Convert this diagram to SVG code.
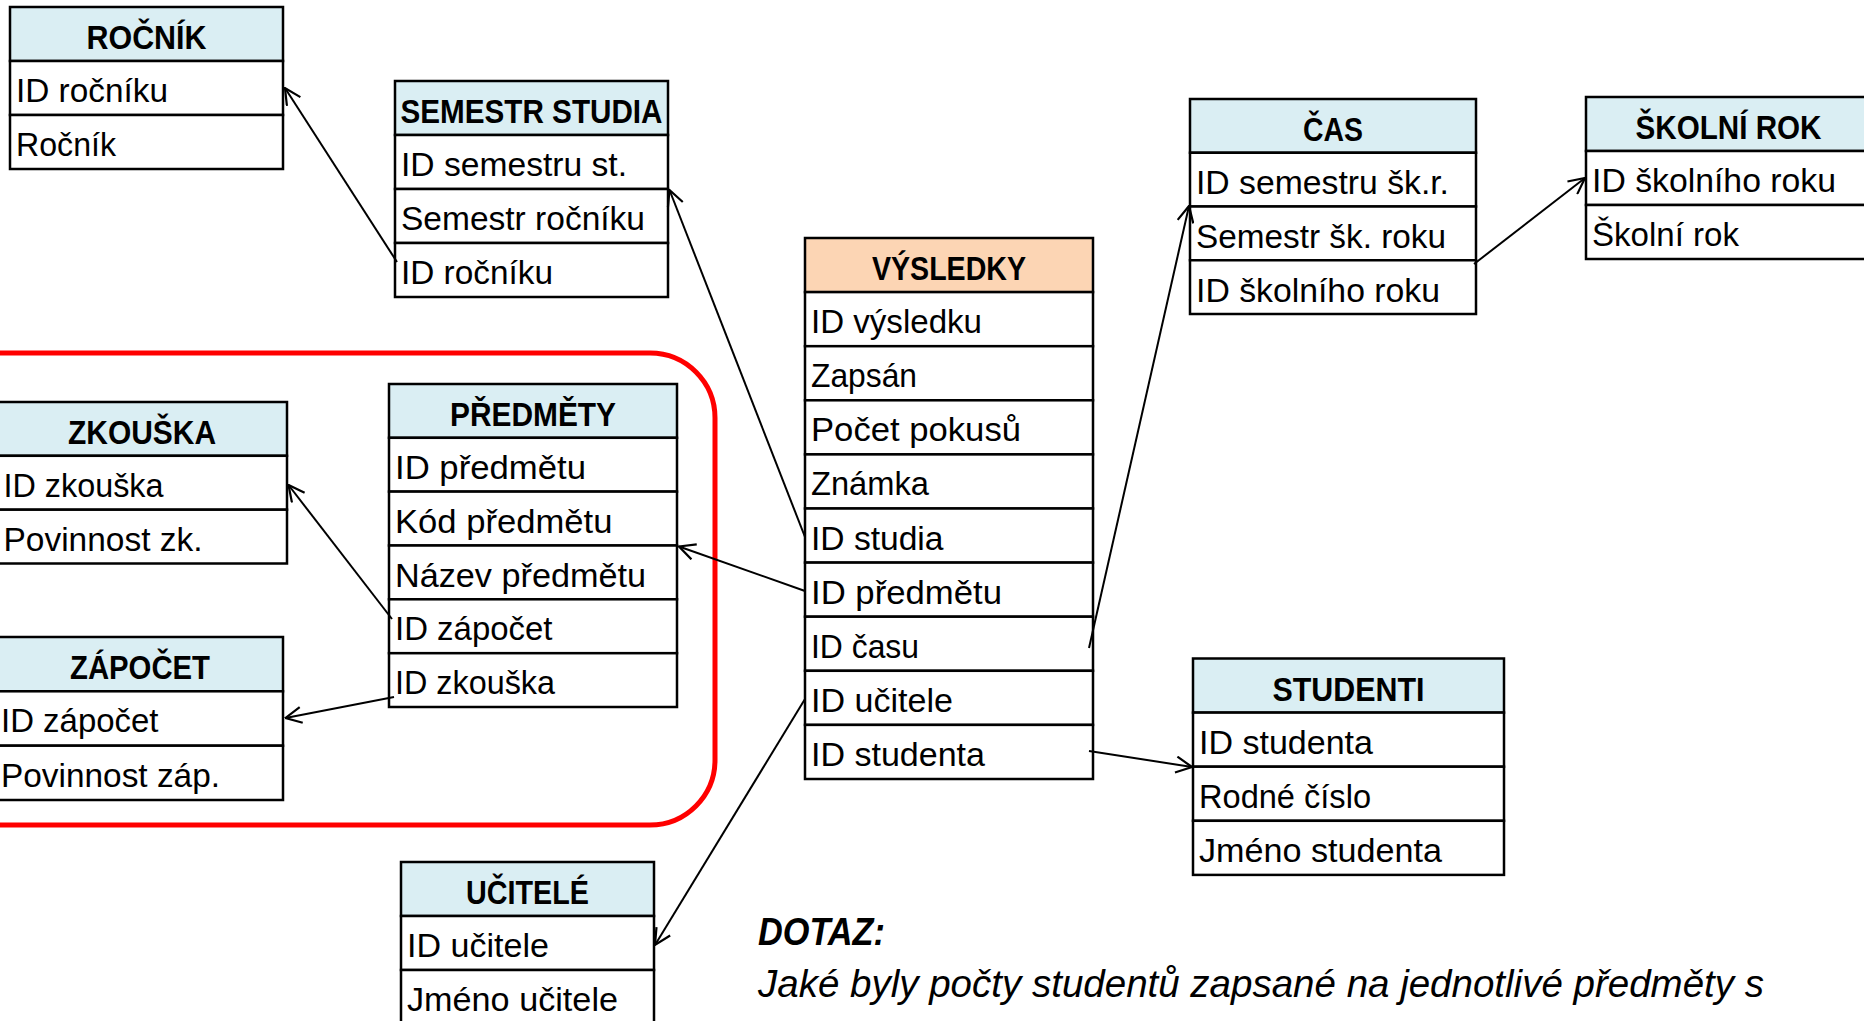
<svg xmlns="http://www.w3.org/2000/svg" width="1864" height="1021" viewBox="0 0 1864 1021">
  <defs>
    <style>
      .cell { fill: #ffffff; stroke: #000000; stroke-width: 2.5; }
      .hdr { fill: #DAEEF3; stroke: #000000; stroke-width: 2.5; }
      .hdr-main { fill: #FCD5B4; stroke: #000000; stroke-width: 2.5; }
      .t { font-family: "Liberation Sans", Arial, sans-serif; font-size: 33px; fill: #000000; }
      .h { font-weight: bold; text-anchor: middle; }
      .q { font-family: "Liberation Sans", Arial, sans-serif; font-size: 38px; font-style: italic; fill: #000000; }
      .link { stroke: #000000; stroke-width: 2; fill: none; marker-end: url(#open-arrow); }
      .group { fill: none; stroke: #FF0000; stroke-width: 5; }
    </style>
    <marker id="open-arrow" viewBox="0 0 18 18" refX="17" refY="9" markerWidth="18" markerHeight="18" markerUnits="userSpaceOnUse" orient="auto">
      <path d="M1,1 L17,9 L1,17" fill="none" stroke="#000000" stroke-width="2.2"/>
    </marker>
  </defs>

  <rect width="1864" height="1021" fill="#ffffff"/>

  <!-- subject cluster outline -->
  <rect class="group" x="-80" y="353" width="795" height="472" rx="65" ry="65"/>

  <!-- ROČNÍK -->
  <g id="rocnik">
    <rect class="hdr" x="10" y="7" width="273" height="54"/>
    <rect class="cell" x="10" y="61" width="273" height="54"/>
    <rect class="cell" x="10" y="115" width="273" height="54"/>
    <text class="t h" x="146.5" y="49" textLength="120" lengthAdjust="spacingAndGlyphs">ROČNÍK</text>
    <text class="t" x="16" y="102" textLength="152" lengthAdjust="spacingAndGlyphs">ID ročníku</text>
    <text class="t" x="16" y="156" textLength="100" lengthAdjust="spacingAndGlyphs">Ročník</text>
  </g>

  <!-- SEMESTR STUDIA -->
  <g id="semestr-studia">
    <rect class="hdr" x="395" y="81" width="273" height="54"/>
    <rect class="cell" x="395" y="135" width="273" height="54"/>
    <rect class="cell" x="395" y="189" width="273" height="54"/>
    <rect class="cell" x="395" y="243" width="273" height="54"/>
    <text class="t h" x="531.5" y="123" textLength="262" lengthAdjust="spacingAndGlyphs">SEMESTR STUDIA</text>
    <text class="t" x="401" y="176" textLength="226" lengthAdjust="spacingAndGlyphs">ID semestru st.</text>
    <text class="t" x="401" y="230" textLength="244" lengthAdjust="spacingAndGlyphs">Semestr ročníku</text>
    <text class="t" x="401" y="284" textLength="152" lengthAdjust="spacingAndGlyphs">ID ročníku</text>
  </g>

  <!-- ČAS -->
  <g id="cas">
    <rect class="hdr" x="1190" y="99" width="286" height="53.75"/>
    <rect class="cell" x="1190" y="152.75" width="286" height="53.75"/>
    <rect class="cell" x="1190" y="206.5" width="286" height="53.75"/>
    <rect class="cell" x="1190" y="260.25" width="286" height="53.75"/>
    <text class="t h" x="1333" y="141" textLength="60" lengthAdjust="spacingAndGlyphs">ČAS</text>
    <text class="t" x="1196" y="194" textLength="253" lengthAdjust="spacingAndGlyphs">ID semestru šk.r.</text>
    <text class="t" x="1196" y="248" textLength="250" lengthAdjust="spacingAndGlyphs">Semestr šk. roku</text>
    <text class="t" x="1196" y="301.5" textLength="244" lengthAdjust="spacingAndGlyphs">ID školního roku</text>
  </g>

  <!-- ŠKOLNÍ ROK -->
  <g id="skolni-rok">
    <rect class="hdr" x="1586" y="97" width="285" height="54"/>
    <rect class="cell" x="1586" y="151" width="285" height="54"/>
    <rect class="cell" x="1586" y="205" width="285" height="54"/>
    <text class="t h" x="1728.5" y="139" textLength="186" lengthAdjust="spacingAndGlyphs">ŠKOLNÍ ROK</text>
    <text class="t" x="1592" y="192" textLength="244" lengthAdjust="spacingAndGlyphs">ID školního roku</text>
    <text class="t" x="1592" y="246" textLength="147" lengthAdjust="spacingAndGlyphs">Školní rok</text>
  </g>

  <!-- VÝSLEDKY (fact table) -->
  <g id="vysledky">
    <rect class="hdr-main" x="805" y="238" width="288" height="54.1"/>
    <rect class="cell" x="805" y="292.1" width="288" height="54.1"/>
    <rect class="cell" x="805" y="346.2" width="288" height="54.1"/>
    <rect class="cell" x="805" y="400.3" width="288" height="54.1"/>
    <rect class="cell" x="805" y="454.4" width="288" height="54.1"/>
    <rect class="cell" x="805" y="508.5" width="288" height="54.1"/>
    <rect class="cell" x="805" y="562.6" width="288" height="54.1"/>
    <rect class="cell" x="805" y="616.7" width="288" height="54.1"/>
    <rect class="cell" x="805" y="670.8" width="288" height="54.1"/>
    <rect class="cell" x="805" y="724.9" width="288" height="54.1"/>
    <text class="t h" x="949" y="280" textLength="154" lengthAdjust="spacingAndGlyphs">VÝSLEDKY</text>
    <text class="t" x="811" y="333.1" textLength="171" lengthAdjust="spacingAndGlyphs">ID výsledku</text>
    <text class="t" x="811" y="387.2" textLength="106" lengthAdjust="spacingAndGlyphs">Zapsán</text>
    <text class="t" x="811" y="441.3" textLength="210" lengthAdjust="spacingAndGlyphs">Počet pokusů</text>
    <text class="t" x="811" y="495.4" textLength="118" lengthAdjust="spacingAndGlyphs">Známka</text>
    <text class="t" x="811" y="549.5" textLength="132.5" lengthAdjust="spacingAndGlyphs">ID studia</text>
    <text class="t" x="811" y="603.6" textLength="191" lengthAdjust="spacingAndGlyphs">ID předmětu</text>
    <text class="t" x="811" y="657.7" textLength="108" lengthAdjust="spacingAndGlyphs">ID času</text>
    <text class="t" x="811" y="711.8" textLength="142" lengthAdjust="spacingAndGlyphs">ID učitele</text>
    <text class="t" x="811" y="765.9" textLength="174" lengthAdjust="spacingAndGlyphs">ID studenta</text>
  </g>

  <!-- PŘEDMĚTY -->
  <g id="predmety">
    <rect class="hdr" x="389" y="384" width="288" height="53.8"/>
    <rect class="cell" x="389" y="437.8" width="288" height="53.8"/>
    <rect class="cell" x="389" y="491.6" width="288" height="53.9"/>
    <rect class="cell" x="389" y="545.5" width="288" height="53.8"/>
    <rect class="cell" x="389" y="599.3" width="288" height="53.9"/>
    <rect class="cell" x="389" y="653.2" width="288" height="53.8"/>
    <text class="t h" x="533" y="426" textLength="166" lengthAdjust="spacingAndGlyphs">PŘEDMĚTY</text>
    <text class="t" x="395" y="478.8" textLength="191" lengthAdjust="spacingAndGlyphs">ID předmětu</text>
    <text class="t" x="395" y="532.7" textLength="217.5" lengthAdjust="spacingAndGlyphs">Kód předmětu</text>
    <text class="t" x="395" y="586.5" textLength="251" lengthAdjust="spacingAndGlyphs">Název předmětu</text>
    <text class="t" x="395" y="640.3" textLength="157.5" lengthAdjust="spacingAndGlyphs">ID zápočet</text>
    <text class="t" x="395" y="694.2" textLength="160" lengthAdjust="spacingAndGlyphs">ID zkouška</text>
  </g>

  <!-- ZKOUŠKA -->
  <g id="zkouska">
    <rect class="hdr" x="-4" y="402" width="291" height="53.8"/>
    <rect class="cell" x="-4" y="455.8" width="291" height="53.9"/>
    <rect class="cell" x="-4" y="509.7" width="291" height="53.8"/>
    <text class="t h" x="142" y="444" textLength="148" lengthAdjust="spacingAndGlyphs">ZKOUŠKA</text>
    <text class="t" x="3.5" y="496.8" textLength="160" lengthAdjust="spacingAndGlyphs">ID zkouška</text>
    <text class="t" x="3.5" y="550.7" textLength="199" lengthAdjust="spacingAndGlyphs">Povinnost zk.</text>
  </g>

  <!-- ZÁPOČET -->
  <g id="zapocet">
    <rect class="hdr" x="-4" y="637" width="287" height="54.3"/>
    <rect class="cell" x="-4" y="691.3" width="287" height="54.4"/>
    <rect class="cell" x="-4" y="745.7" width="287" height="54.3"/>
    <text class="t h" x="140" y="679" textLength="140" lengthAdjust="spacingAndGlyphs">ZÁPOČET</text>
    <text class="t" x="1" y="732.3" textLength="157.5" lengthAdjust="spacingAndGlyphs">ID zápočet</text>
    <text class="t" x="1" y="786.7" textLength="219" lengthAdjust="spacingAndGlyphs">Povinnost záp.</text>
  </g>

  <!-- STUDENTI -->
  <g id="studenti">
    <rect class="hdr" x="1193" y="658.5" width="311" height="54.1"/>
    <rect class="cell" x="1193" y="712.6" width="311" height="54.1"/>
    <rect class="cell" x="1193" y="766.7" width="311" height="54.1"/>
    <rect class="cell" x="1193" y="820.8" width="311" height="54.1"/>
    <text class="t h" x="1348.5" y="700.5" textLength="152" lengthAdjust="spacingAndGlyphs">STUDENTI</text>
    <text class="t" x="1199" y="753.6" textLength="174" lengthAdjust="spacingAndGlyphs">ID studenta</text>
    <text class="t" x="1199" y="807.7" textLength="172" lengthAdjust="spacingAndGlyphs">Rodné číslo</text>
    <text class="t" x="1199" y="861.8" textLength="243" lengthAdjust="spacingAndGlyphs">Jméno studenta</text>
  </g>

  <!-- UČITELÉ -->
  <g id="ucitele">
    <rect class="hdr" x="401" y="862" width="253" height="54"/>
    <rect class="cell" x="401" y="916" width="253" height="54"/>
    <rect class="cell" x="401" y="970" width="253" height="54"/>
    <text class="t h" x="527.5" y="904" textLength="123" lengthAdjust="spacingAndGlyphs">UČITELÉ</text>
    <text class="t" x="407" y="957" textLength="142" lengthAdjust="spacingAndGlyphs">ID učitele</text>
    <text class="t" x="407" y="1011" textLength="211" lengthAdjust="spacingAndGlyphs">Jméno učitele</text>
  </g>

  <!-- relationships: foreign key to referenced table -->
  <g id="connectors">
    <line class="link" x1="397" y1="262" x2="285" y2="88"/>
    <line class="link" x1="805" y1="537" x2="669.5" y2="190"/>
    <line class="link" x1="805" y1="591" x2="679" y2="546.5"/>
    <line class="link" x1="1089" y1="648" x2="1189" y2="206"/>
    <line class="link" x1="1474" y1="264" x2="1585" y2="178"/>
    <line class="link" x1="1089" y1="751" x2="1192" y2="767"/>
    <line class="link" x1="805" y1="699" x2="655" y2="945"/>
    <line class="link" x1="392" y1="619" x2="288.5" y2="485"/>
    <line class="link" x1="394" y1="697" x2="285.5" y2="718"/>
  </g>

  <!-- query -->
  <g id="dotaz">
    <text class="q" x="758" y="945" font-weight="bold" textLength="127" lengthAdjust="spacingAndGlyphs">DOTAZ:</text>
    <text class="q" x="758" y="997" textLength="1006" lengthAdjust="spacingAndGlyphs">Jaké byly počty studentů zapsané na jednotlivé předměty s</text>
  </g>
</svg>
